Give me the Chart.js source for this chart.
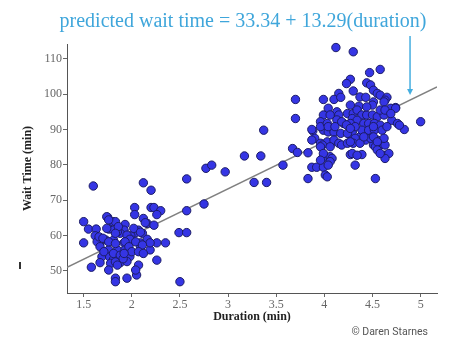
<!DOCTYPE html>
<html>
<head>
<meta charset="utf-8">
<script src="https://cdn.jsdelivr.net/npm/chart.js@4.4.1/dist/chart.umd.min.js"></script>
<style>
  html, body { margin: 0; padding: 0; background: #fff; }
  #wrap { width: 452px; height: 337px; }
</style>
</head>
<body>
<div id="wrap"><canvas id="waitChart" width="452" height="337"></canvas></div>
<script>
// --- data ---
const durations = [
  // short eruptions
  1.60, 2.12, 2.20, 2.03, 2.20, 2.23, 2.03, 2.30, 2.26, 2.12,
  1.50, 1.75, 1.80, 1.83, 1.93, 2.16, 1.55, 1.63, 1.76, 1.81,
  1.92, 2.07, 2.11, 2.04, 1.62, 1.88, 1.99, 2.49, 2.57, 1.50,
  1.64, 1.73, 1.81, 1.92, 2.00, 2.09, 2.26, 2.35, 1.67, 1.76,
  1.85, 1.93, 2.09, 2.19, 1.69, 1.77, 1.81, 1.86, 1.98, 2.26,
  1.67, 1.78, 1.88, 1.95, 2.07, 1.58, 1.76, 1.95, 1.83, 1.83,
  2.05, 2.50, 1.74, 1.76, 1.74, 1.85, 1.66, 1.70, 1.76, 1.83,
  1.71, 1.81, 1.88, 1.91, 1.83, 2.14, 2.23, 1.86, 2.02, 2.09,
  1.95, 1.83, 1.98, 1.93, 2.04, 2.16, 2.19, 2.11, 1.97, 2.00,
  2.07, 2.12, 1.92, 2.04, 1.85,
  // in between
  2.57, 2.57, 2.75, 2.77, 2.83, 2.97, 3.17, 3.34, 3.37, 3.27,
  3.40, 3.57, 3.67, 3.72, 3.83, 3.88, 3.83, 3.87, 3.92,
  // long eruptions
  4.12, 4.30, 4.47, 4.58, 4.27, 4.23, 4.30, 4.44, 4.48, 4.51,
  4.55, 4.58, 4.15, 3.70, 3.99, 4.10, 4.37, 4.43, 4.65, 4.63,
  4.74, 3.70, 5.00, 4.83, 4.04, 4.13, 4.27, 4.36, 3.99, 4.06,
  4.15, 4.24, 4.30, 3.87, 3.99, 4.04, 4.10, 4.17, 4.27, 4.37,
  4.46, 4.51, 4.58, 4.63, 3.90, 3.96, 4.06, 3.98, 4.06, 3.99,
  4.01, 4.03, 4.32, 4.53, 4.27, 4.39, 4.63, 4.67, 4.51, 4.50,
  4.62, 4.69, 4.74, 4.34, 4.39, 4.44, 4.50, 4.55, 4.62, 4.29,
  4.34, 4.70, 4.76, 4.41, 4.46, 4.52, 4.58, 4.39, 4.46, 4.52,
  4.60, 4.29, 4.32, 4.43, 4.48, 4.55, 4.62, 4.53, 4.30, 4.37,
  4.29, 4.63, 4.17, 4.20, 4.27, 3.99, 4.24, 3.87, 4.03, 4.10,
  4.15, 4.18, 4.24, 4.27, 3.98, 3.96, 3.99, 4.06, 4.34, 3.96,
  4.08, 4.06, 4.04, 4.44, 4.58, 4.63, 4.69, 4.78, 4.65, 4.51,
  4.32, 4.41, 4.51, 4.13, 4.18, 4.23, 4.27, 3.96, 3.96, 4.03,
  4.04, 4.11, 4.55, 4.55, 4.58
];
const waits = [
  74.0, 74.9, 72.8, 67.9, 67.9, 67.9, 65.9, 67.0, 65.9, 64.8,
  63.9, 65.1, 63.9, 63.9, 63.1, 63.4, 61.8, 61.8, 61.8, 61.5,
  61.5, 61.5, 60.6, 60.8, 59.9, 60.6, 59.9, 60.8, 60.8, 57.9,
  58.2, 58.7, 58.7, 57.9, 58.7, 57.9, 57.9, 57.9, 56.8, 55.9,
  55.9, 55.9, 56.8, 55.9, 54.0, 53.9, 53.2, 53.0, 54.0, 53.0,
  52.3, 52.1, 52.3, 52.6, 51.6, 51.0, 50.2, 47.9, 47.9, 46.9,
  48.8, 46.9, 65.3, 64.4, 62.0, 61.0, 59.6, 59.2, 58.2, 57.7,
  55.4, 54.9, 54.4, 53.4, 52.5, 63.6, 62.9, 62.5, 62.0, 60.9,
  60.1, 60.6, 58.9, 58.2, 58.2, 58.9, 57.9, 57.3, 56.8, 55.4,
  55.4, 54.9, 54.9, 50.2, 51.6,
  76.0, 67.0, 68.9, 79.0, 79.9, 78.0, 82.5, 82.5, 89.8, 75.0,
  75.0, 79.9, 84.6, 83.5, 83.4, 89.6, 76.1, 79.3, 79.3,
  113.2, 112.0, 106.1, 107.0, 104.2, 103.0, 100.9, 103.2, 102.6, 101.1,
  100.2, 99.7, 100.2, 98.5, 98.5, 98.5, 99.2, 99.1, 99.1, 98.3,
  96.2, 93.1, 92.2, 90.0, 96.0, 95.0, 96.9, 96.6, 94.1, 94.1,
  94.1, 94.5, 94.5, 90.0, 89.8, 89.3, 89.3, 88.9, 88.4, 87.9,
  87.9, 85.6, 85.6, 85.6, 87.5, 86.1, 85.6, 81.8, 82.3, 79.3,
  77.1, 76.6, 79.9, 76.1, 82.9, 82.9, 82.7, 83.2, 97.8, 96.9,
  97.8, 96.0, 96.0, 95.5, 94.1, 94.1, 94.1, 93.6, 94.1, 93.1,
  92.6, 92.6, 91.7, 91.7, 91.7, 91.7, 91.2, 89.8, 89.8, 89.8,
  89.8, 89.3, 87.5, 87.0, 87.5, 87.0, 87.5, 85.1, 86.1, 86.1,
  83.2, 81.8, 99.1, 91.7, 91.7, 91.3, 88.9, 87.0, 86.5, 87.0,
  86.1, 85.6, 86.1, 86.5, 85.6, 85.1, 83.2, 85.1, 82.7, 81.3,
  81.8, 80.9, 79.9, 96.4, 95.5, 95.5, 94.5, 91.2, 90.8, 90.8,
  90.8, 87.9, 87.9, 92.7, 92.2, 91.3, 90.3, 92.2, 90.8, 91.7,
  90.8, 90.8, 86.5, 84.2, 83.2
];
const xTicks = [1.5, 2, 2.5, 3, 3.5, 4, 4.5, 5];
const yTicks = [50, 60, 70, 80, 90, 100, 110];
const intercept = 33.34;
const slope = 13.29;
const arrowAt = 4.89;
const xMin = 1.327, xMax = 5.17;
const yMin = 43.7, yMax = 114.2;

const serif = "'Liberation Serif', 'Times New Roman', serif";

const points = durations.map((d, i) => ({ x: d, y: waits[i] }));
const fitLine = [xMin, xMax].map(x => ({ x: x, y: intercept + slope * x }));

// title, arrow and credit drawn on top
const extras = {
  id: "extras",
  afterDraw(chart) {
    const { ctx, chartArea, scales } = chart;
    ctx.save();
    ctx.fillStyle = "#3fa6db";
    ctx.font = "20px " + serif;
    ctx.textAlign = "center";
    ctx.textBaseline = "alphabetic";
    ctx.fillText("predicted wait time = 33.34 + 13.29(duration)", 243, 27);

    // arrow down to the line
    const ax = scales.x.getPixelForValue(arrowAt);
    const tip = scales.y.getPixelForValue(intercept + slope * arrowAt) - 5;
    ctx.strokeStyle = "#45aee0";
    ctx.lineWidth = 1.5;
    ctx.beginPath();
    ctx.moveTo(ax, chartArea.top - 8);
    ctx.lineTo(ax, tip - 5);
    ctx.stroke();
    ctx.fillStyle = "#45aee0";
    ctx.beginPath();
    ctx.moveTo(ax - 3, tip - 6);
    ctx.lineTo(ax + 3, tip - 6);
    ctx.lineTo(ax, tip);
    ctx.closePath();
    ctx.fill();

    ctx.fillStyle = "#555";
    ctx.font = "10.5px Roboto, 'Noto Sans', sans-serif";
    ctx.textAlign = "right";
    ctx.textBaseline = "middle";
    ctx.fillText("\u00a9 Daren Starnes", 428, 332);

    // small stray mark left of the axis
    ctx.fillStyle = "#333";
    ctx.fillRect(19, 262, 2, 7);
    ctx.restore();
  }
};

new Chart(document.getElementById("waitChart"), {
  type: "scatter",
  data: {
    datasets: [
      {
        label: "Eruptions",
        data: points,
        backgroundColor: "#3535e4",
        borderColor: "#1c1c66",
        borderWidth: 1,
        pointRadius: 4.2,
        clip: false,
      },
      {
        type: "line",
        label: "Fit",
        data: fitLine,
        borderColor: "#808080",
        borderWidth: 1.5,
        pointRadius: 0,
        fill: false,
      },
    ],
  },
  options: {
    responsive: false,
    animation: false,
    layout: { padding: { top: 44, right: 15, left: 0, bottom: 0 } },
    plugins: {
      legend: { display: false },
      tooltip: { enabled: false },
    },
    scales: {
      x: {
        type: "linear",
        position: "bottom",
        min: xMin,
        max: xMax,
        afterBuildTicks: (s) => { s.ticks = xTicks.map(v => ({ value: v })); },
        afterFit: (s) => { s.height = 44; },
        grid: { drawOnChartArea: false, drawTicks: true, tickLength: 4, color: "#666" },
        border: { display: true, color: "#555", width: 1 },
        ticks: {
          color: "#666",
          padding: 2,
          autoSkip: false,
          maxRotation: 0,
          font: { family: serif, size: 12, lineHeight: 1 },
          callback: (v) => String(v),
        },
        title: {
          display: true,
          text: "Duration (min)",
          color: "#222",
          font: { family: serif, size: 12, weight: "bold", lineHeight: 1 },
          padding: { top: 0, bottom: 14 },
        },
      },
      y: {
        type: "linear",
        min: yMin,
        max: yMax,
        afterBuildTicks: (s) => { s.ticks = yTicks.map(v => ({ value: v })); },
        afterFit: (s) => { s.width = 67; },
        grid: { drawOnChartArea: false, drawTicks: true, tickLength: 4, color: "#666" },
        border: { display: true, color: "#555", width: 1 },
        ticks: {
          color: "#666",
          padding: 1,
          font: { family: serif, size: 12, lineHeight: 1 },
          callback: (v) => String(v),
        },
        title: {
          display: true,
          text: "Wait Time (min)",
          color: "#222",
          font: { family: serif, size: 12, weight: "bold", lineHeight: 1 },
          padding: { top: 22, bottom: 0 },
        },
      },
    },
  },
  plugins: [extras],
});
</script>
</body>
</html>
